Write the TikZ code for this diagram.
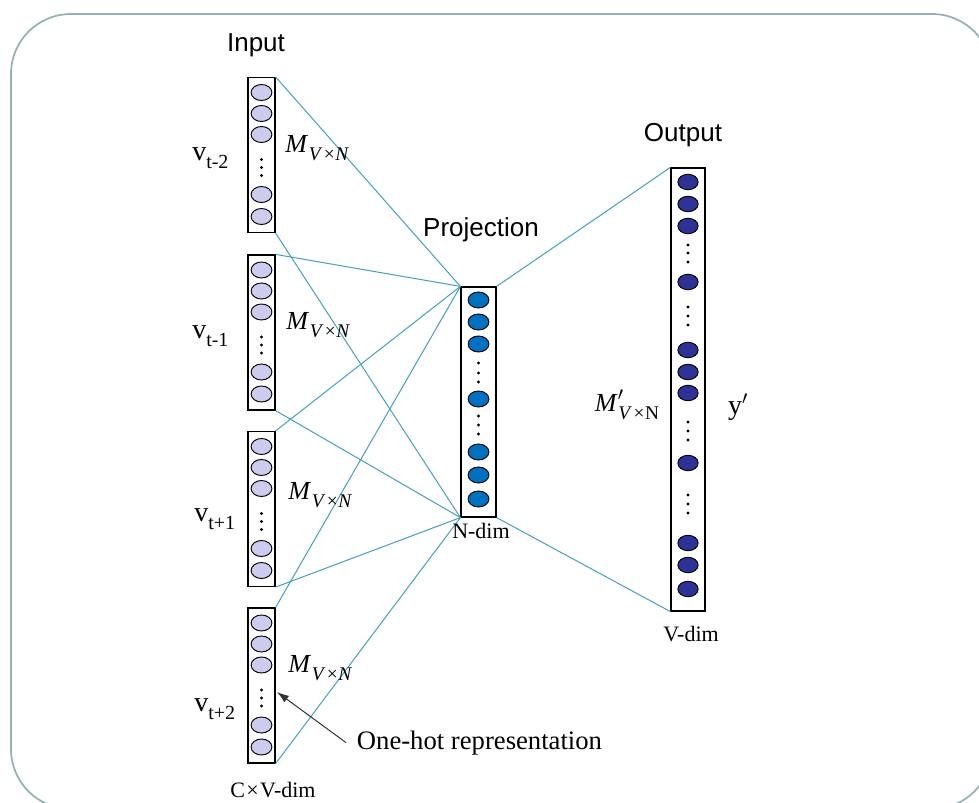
\documentclass[tikz,border=0pt]{standalone}
\usepackage{fontspec}
\setmainfont{Liberation Serif}
\setsansfont{Liberation Sans}
\usetikzlibrary{arrows.meta}
\definecolor{framec}{RGB}{150,177,182}
\definecolor{linec}{RGB}{66,160,195}
\definecolor{inc}{RGB}{204,204,238}
\definecolor{projc}{RGB}{0,112,192}
\definecolor{outc}{RGB}{46,49,150}
\tikzset{
  frame/.style={draw=framec, line width=1.3pt},
  conn/.style={draw=linec, line width=0.75pt},
  boxbase/.style={draw=black, line width=0.9pt, inner sep=0pt, fill=white},
  inbox/.style={boxbase, minimum width=20.25pt, minimum height=116.25pt},
  projbox/.style={boxbase, minimum width=26.25pt, minimum height=172.5pt},
  outbox/.style={boxbase, minimum width=25.5pt, minimum height=332.25pt},
  incirc/.style={draw=black, line width=0.7pt, fill=inc},
  projcirc/.style={draw=black, line width=0.7pt, fill=projc},
  outcirc/.style={draw=black, line width=0.7pt, fill=outc},
  title/.style={font=\sffamily\fontsize{19.5}{22}\selectfont, inner sep=0pt},
  vlab/.style={font=\rmfamily\fontsize{21}{23}\selectfont, inner sep=0pt},
  mlab/.style={font=\rmfamily\fontsize{19.5}{21}\selectfont, inner sep=0pt},
  dimlab/.style={font=\rmfamily\fontsize{16.5}{18}\selectfont, inner sep=0pt},
  hotlab/.style={font=\rmfamily\fontsize{20}{22}\selectfont, inner ysep=0pt, inner xsep=8pt},
  ptr/.style={draw=black!80, line width=0.75pt, -{Latex[length=9pt,width=6pt]}}
}
\newcommand{\vsub}[1]{v\raisebox{-0.3em}{\fontsize{15}{16}\selectfont #1}}
\newcommand{\mvn}{\textit{M}\kern0.5pt\raisebox{-0.32em}{\fontsize{14.5}{15}\selectfont\textit{V}\kern1pt×\kern0.5pt\textit{N}}}
\newcommand{\mpvn}{\textit{M}\rlap{\raisebox{0.42em}{\fontsize{14}{15}\selectfont$\prime$}}\kern0.5pt\raisebox{-0.32em}{\fontsize{14.5}{15}\selectfont\textit{V}\kern1pt×\kern0.5pt N}}
\begin{document}
\begin{tikzpicture}[x=0.75pt,y=-0.75pt]
\useasboundingbox (0,0) rectangle (979,803);
\begin{scope}
  \clip (0,0) rectangle (979,803);
  \draw[frame, rounded corners=45pt] (11,14) rectangle (992,809);
\end{scope}

% boxes
\node[inbox] (in1) at (261.5,155) {};
\node[inbox] (in2) at (261.5,332.5) {};
\node[inbox] (in3) at (261.5,509) {};
\node[inbox] (in4) at (261.5,685.5) {};
\node[projbox] (proj) at (478.5,402) {};
\node[outbox] (out) at (688,389.5) {};

% connectors
\foreach \b in {in1,in2,in3,in4} {
  \draw[conn] (\b.north east) -- (proj.north west);
  \draw[conn] (\b.south east) -- (proj.south west);
}
\draw[conn] (proj.north east) -- (out.north west);
\draw[conn] (proj.south east) -- (out.south west);

% input units
\foreach \t in {77.5,255,431.5,608} {
  \foreach \o in {15,36,57,117,139}
    \draw[incirc] (261.5,{\t+\o}) ellipse [x radius=7.8pt, y radius=6pt];
  \foreach \o in {82,90,98}
    \fill (261.5,{\t+\o}) circle [radius=1.2pt];
}
% projection units
\foreach \y in {300,322,344,399,452,475,499}
  \draw[projcirc] (478.5,\y) ellipse [x radius=7.8pt, y radius=6pt];
\foreach \y in {363,373,382,416,425,434}
  \fill (478.5,\y) circle [radius=1.2pt];
% output units
\foreach \y in {182,204,226,282,350,372,393,463,543,565,589}
  \draw[outcirc] (688,\y) ellipse [x radius=7.6pt, y radius=5.8pt];
\foreach \y in {245,253,262,307,316,325,422,431,440,495,504,513}
  \fill (688,\y) circle [radius=1.2pt];

% titles
\node[title, anchor=base] (tin) at (256,51) {Input};
\node[title, anchor=base] (tproj) at (481,236) {Projection};
\node[title, anchor=base] (tout) at (683,141) {Output};

% word labels
\node[vlab, anchor=west] (v1) at (192,158) {\vsub{t-2}};
\node[vlab, anchor=west] (v2) at (192,336) {\vsub{t-1}};
\node[vlab, anchor=west] (v3) at (194,519) {\vsub{t+1}};
\node[vlab, anchor=west] (v4) at (194,709) {\vsub{t+2}};

% matrices
\node[mlab, anchor=west] (m1) at (285,148) {\mvn};
\node[mlab, anchor=west] (m2) at (286,325) {\mvn};
\node[mlab, anchor=west] (m3) at (288,495) {\mvn};
\node[mlab, anchor=west] (m4) at (288,668) {\mvn};
\node[mlab] (mp) at (627,405) {\mpvn};
\node[vlab] (yp) at (738,407) {y$'$};

% dims
\node[dimlab] (ndim) at (481,531) {N-dim};
\node[dimlab] (vdim) at (691,634) {V-dim};
\node[dimlab] (cvdim) at (273,790) {C\kern1pt×\kern1pt V-dim};

% one-hot annotation
\node[hotlab, anchor=base west] (onehot) at (346,749) {One-hot representation};
\coordinate (hot) at (277,692);
\draw[ptr] (onehot.west) -- (hot);
\end{tikzpicture}
\end{document}
